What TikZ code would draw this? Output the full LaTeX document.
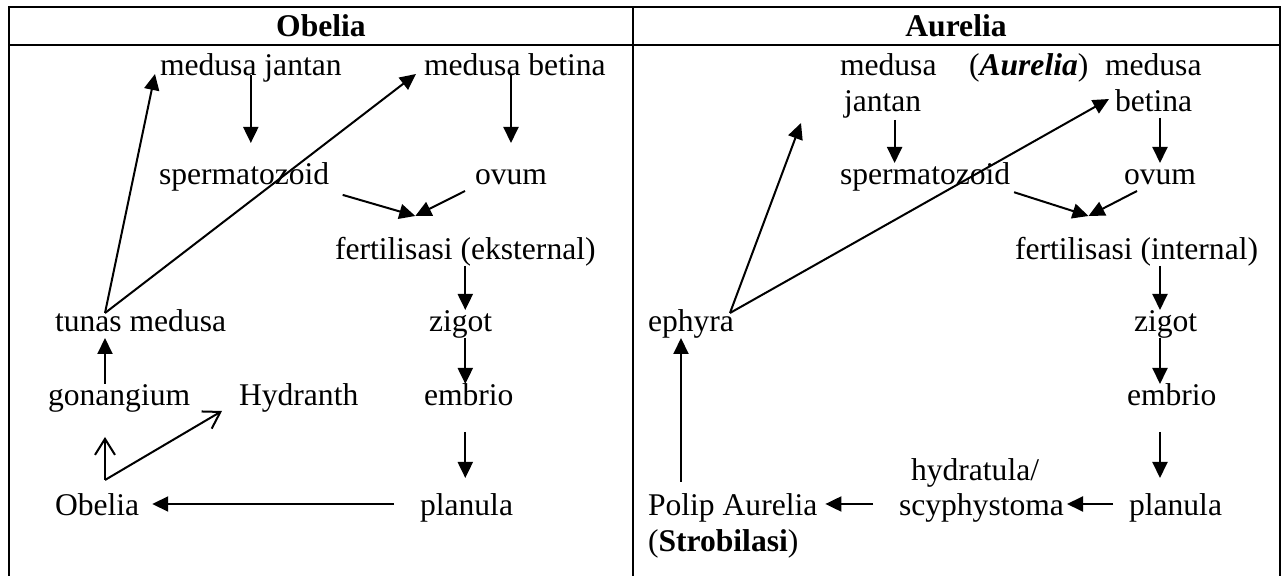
\documentclass[tikz,border=0pt]{standalone}
\usepackage{fontspec}
\setmainfont{Liberation Serif}
\usetikzlibrary{
	arrows.meta,
	calc,
	positioning
}
\tikzset{every path/.append style={line width=1pt}}
\tikzset{
	lbl/.style={anchor=base west,inner sep=0pt,outer sep=0pt,text height=11pt,text depth=3pt,font=\fontsize{15.8}{18}\selectfont},
	head/.style={anchor=base,font=\fontsize{15.8}{18}\selectfont\bfseries},
	arr/.style={-{Triangle[length=8pt,width=7.5pt]}},
	barb/.style={-{Straight Barb[length=8pt,width=10pt]}}
}
\newcommand{\tikzText}[4][]{\node (#3) at #2 [lbl,#1]{#4};}

\begin{document}
\begin{tikzpicture}[x=0.5pt,y=-0.5pt]
	\useasboundingbox (0,0) rectangle (1281,576);
	
	% table
	\draw (8.5,576) -- (8.5,7.5) -- (1279.5,7.5) -- (1279.5,576);
	\draw (8.5,45) -- (1279.5,45);
	\draw (633,7.5) -- (633,576);
	\tikzText[head]{(321,37)}{hOb}{Obelia}
	\tikzText[head]{(956,37)}{hAu}{Aurelia}
	
	% Obelia
	\tikzText{(160,76)}{mj}{medusa jantan}
	\tikzText{(424,76)}{mb}{medusa betina}
	\tikzText{(159,185)}{sp}{spermatozoid}
	\tikzText{(475,185)}{ov}{ovum}
	\tikzText{(335,260)}{fe}{fertilisasi (eksternal)}
	\tikzText{(55,332)}{tm}{tunas medusa}
	\tikzText{(429,332)}{zg}{zigot}
	\tikzText{(48,406)}{go}{gonangium}
	\tikzText{(239,406)}{hy}{Hydranth}
	\tikzText{(424,406)}{em}{embrio}
	\tikzText{(55,516)}{ob}{Obelia}
	\tikzText{(420,516)}{pl}{planula}
	
	\coordinate (fein) at ($(fe.north)+(-50,-22)$);
	\coordinate (tmtop) at ([xshift=25pt,yshift=-1.5pt]tm.north west);
	\coordinate (obtop) at ([xshift=25pt,yshift=7pt]ob.north west);
	
	\draw[arr,shorten <=-3.5pt,shorten >=10pt] (mj.south) -- (mj.south |- sp.north);
	\draw[arr,shorten <=-3.5pt,shorten >=10pt] (ov.north |- mb.south) -- (ov.north);
	\draw[arr,shorten <=7pt] (sp.south east) -- (fein);
	\draw[arr] ([xshift=-5pt]ov.south west) -- (fein);
	\draw[arr] (fe.south) -- (fe.south |- zg.north);
	\draw[arr] (fe.south |- zg.south) -- (fe.south |- em.north);
	\draw[arr,shorten <=10pt,shorten >=8pt] (fe.south |- em.south) -- (fe.south |- pl.north);
	\draw[arr,shorten <=13pt,shorten >=6.5pt] ([yshift=2pt]pl.west) -- ([yshift=2pt]ob.east);
	\draw[barb,shorten >=12.5pt] (obtop) -- (obtop |- go.south);
	\draw[barb] (obtop) -- ([shift={(-17,13)}]hy.west);
	\draw[arr] (tmtop |- go.north) -- (tmtop |- tm.south);
	\draw[arr] (tmtop) -- ([shift={(-5,6)}]mj.west);
	\draw[arr] (tmtop) -- ([shift={(-8,6)}]mb.west);
	
	% Aurelia
	\tikzText{(840,76)}{mA}{medusa}
	\tikzText{(969,76)}{au}{(\textbf{\textit{Aurelia}})}
	\tikzText{(1105,76)}{mB}{medusa}
	\tikzText{(844,112)}{ja}{jantan}
	\tikzText{(1115,112)}{be}{betina}
	\tikzText{(840,185)}{spA}{spermatozoid}
	\tikzText{(1124,185)}{ovA}{ovum}
	\tikzText{(1015,260)}{fi}{fertilisasi (internal)}
	\tikzText{(648,332)}{ep}{ephyra}
	\tikzText{(1134,332)}{zgA}{zigot}
	\tikzText{(1127,406)}{emA}{embrio}
	\tikzText{(911,481)}{hd}{hydratula/}
	\tikzText{(648,516)}{po}{Polip Aurelia}
	\tikzText{(899,516)}{sc}{scyphystoma}
	\tikzText{(1129,516)}{plA}{planula}
	\tikzText{(648,552)}{st}{(\textbf{Strobilasi})}
	
	\coordinate (fiin) at ($(fi.north)+(-48,-22)$);
	\coordinate (jaout) at ([xshift=6pt,yshift=-1pt]ja.south);
	\coordinate (potop) at ([xshift=16.5pt,yshift=6pt]po.north west);
	\coordinate (eptop) at ([xshift=-2pt,yshift=-1.5pt]ep.north east);
	\coordinate (jafree) at ([shift={(-43,5)}]ja.south west);
	
	\draw[arr] (jaout) -- (jaout |- spA.north);
	\draw[arr] (ovA.north |- be.south) -- (ovA.north);
	\draw[arr,shorten <=2pt] (spA.south east) -- (fiin);
	\draw[arr] ([xshift=6.5pt]ovA.south west) -- (fiin);
	\draw[arr] (ovA.north |- fi.south) -- (ovA.north |- zgA.north);
	\draw[arr] (ovA.north |- zgA.south) -- (ovA.north |- emA.north);
	\draw[arr,shorten <=10pt,shorten >=8pt] (ovA.north |- emA.south) -- (ovA.north |- plA.north);
	\draw[arr,shorten <=8pt,shorten >=1.5pt] ([yshift=2pt]plA.west) -- ([yshift=2pt]sc.east);
	\draw[arr,shorten <=13pt,shorten >=4pt] ([yshift=2pt]sc.west) -- ([yshift=2pt]po.east);
	\draw[arr] (potop) -- (potop |- ep.south);
	\draw[arr] (eptop) -- (jafree);
	\draw[arr] (eptop) -- ([shift={(-6,-5)}]be.west);
\end{tikzpicture}
\end{document}
